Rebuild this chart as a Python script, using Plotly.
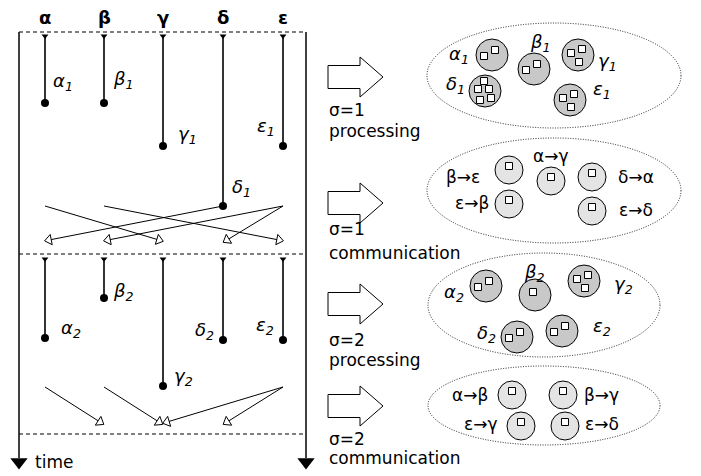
import math
import plotly.graph_objects as go

# ---------------- data ----------------
procs = ["α", "β", "γ", "δ", "ε"]
# time (downward) at which each superstep's processing begins / ends per process
step_start = [35, 258]
step1_end = [103, 103, 146, 206, 146]
step2_end = [338, 298, 386, 340, 340]
# work units (squares) per process in each superstep
step1_work = [2, 2, 3, 5, 3]
step2_work = [2, 1, 3, 2, 2]
# messages (source, target)
comm1_msgs = [("α", "γ"), ("β", "ε"), ("δ", "α"), ("ε", "β"), ("ε", "δ")]
comm2_msgs = [("α", "β"), ("β", "γ"), ("ε", "γ"), ("ε", "δ")]
comm_send_time = [206, 387]
comm_recv_time = [240, 422]
barrier_times = [32, 254, 434]
phase_names = ["processing", "communication", "processing", "communication"]
phase_sigma = ["σ=1", "σ=1", "σ=2", "σ=2"]

# ---------------- layout / style ----------------
W, H = 701, 476
FONT = "DejaVu Sans"
col_x = {p: x for p, x in zip(procs, [45, 104, 163, 223, 283])}
frame_left, frame_right = 19, 306
bar_label_pos = [
    {"α": (63, 82), "β": (123, 80), "γ": (187, 135), "δ": (241, 188), "ε": (266, 127)},
    {"α": (71, 329), "β": (123, 292), "γ": (183, 377), "δ": (204, 331), "ε": (265, 326)},
]
block_arrow_y = [77, 203, 304, 406]
phase_text_y = [(110, 131), (229, 253), (340, 360), (439, 458)]
ellipses = [(427, 23, 681, 128), (427, 138, 681, 243), (428, 253, 660, 357), (428, 366, 660, 445)]
# processing circles: centre, label position
proc_circ = [
    {"α": ((492, 55), (459, 55)), "β": ((534, 69), (540, 43)), "γ": ((578, 55), (607, 62)),
     "δ": ((485, 91), (455, 85)), "ε": ((570, 100), (602, 90))},
    {"α": ((486, 286), (454, 293)), "β": ((535, 295), (534, 273)), "γ": ((584, 281), (623, 285)),
     "δ": ((517, 337), (486, 334)), "ε": ((562, 331), (602, 327))},
]
square_offsets = {
    1: [(-2, -3)],
    2: [(-8, 1), (3, -5)],
    3: [(-7, -2), (4, -6), (1, 7)],
    5: [(-1, -10), (-7, -2), (4, -2), (-5, 9), (6, 7)],
}
comm_circ = [
    {("β", "ε"): ((509, 170), (463, 177)), ("α", "γ"): ((551, 181), (551, 156)),
     ("δ", "α"): ((592, 177), (636, 177)), ("ε", "β"): ((509, 204), (472, 203)),
     ("ε", "δ"): ((592, 211), (636, 210))},
    {("α", "β"): ((512, 395), (470, 395)), ("β", "γ"): ((563, 395), (601, 395)),
     ("ε", "γ"): ((521, 426), (481, 424)), ("ε", "δ"): ((565, 426), (602, 424))},
]

shapes = []
annotations = []
traces = []


def line(x0, y0, x1, y1, w=1.0, dash=None, color="black"):
    d = dict(type="line", x0=x0, y0=y0, x1=x1, y1=y1, xref="x", yref="y", layer="below",
             line=dict(color=color, width=w))
    if dash:
        d["line"]["dash"] = dash
    shapes.append(d)


def text(x, y, s, size=16, anchor="center", bold=False):
    if bold:
        s = "<b>" + s + "</b>"
    annotations.append(dict(x=x, y=y, xref="x", yref="y", text=s, showarrow=False,
                            xanchor=anchor, yanchor="middle",
                            font=dict(family=FONT, size=size, color="black")))


def label(p, s):
    return f"<i>{p}</i><sub><i>{s}</i></sub>"


# headers
for p in procs:
    text(col_x[p], 17, p, size=18, bold=True)

# frame
for fx in (frame_left, frame_right):
    line(fx, barrier_times[0], fx, 458, w=1.5)
traces.append(go.Scatter(x=[frame_left, frame_right], y=[462, 462], mode="markers",
                         marker=dict(symbol="triangle-down", size=15, color="black"),
                         hoverinfo="skip"))
for t in barrier_times:
    line(frame_left, t, frame_right, t, w=1.2, dash="4px,3px")
text(33, 462, "time", size=17, anchor="left")

# processing bars
ends_all = [step1_end, step2_end]
dot_x, dot_y, top_x, top_y = [], [], [], []
for s, ends in enumerate(ends_all):
    for p, e in zip(procs, ends):
        x = col_x[p]
        line(x, step_start[s], x, e, w=1.6)
        dot_x.append(x)
        dot_y.append(e)
        top_x.append(x)
        top_y.append(step_start[s] + 1)
        lx, ly = bar_label_pos[s][p]
        text(lx, ly, label(p, s + 1), size=18)
traces.append(go.Scatter(x=dot_x, y=dot_y, mode="markers",
                         marker=dict(symbol="circle", size=8, color="black"), hoverinfo="skip"))
traces.append(go.Scatter(x=top_x, y=top_y, mode="markers",
                         marker=dict(symbol="triangle-down", size=6, color="black"), hoverinfo="skip"))

# communication arrows
for s, msgs in enumerate([comm1_msgs, comm2_msgs]):
    hx, hy, ang = [], [], []
    for src, dst in msgs:
        x0, y0 = col_x[src], comm_send_time[s]
        sign = 1 if col_x[src] > col_x[dst] else -1
        x1, y1 = col_x[dst] + 4 * sign, comm_recv_time[s]
        line(x0, y0, x1, y1, w=1.0)
        hx.append(x1)
        hy.append(y1)
        ang.append(math.degrees(math.atan2(x1 - x0, -(y1 - y0))))
    traces.append(go.Scatter(x=hx, y=hy, mode="markers",
                             marker=dict(symbol="triangle-up", size=9, angle=ang, color="white",
                                         line=dict(color="black", width=1)),
                             hoverinfo="skip"))

# block arrows + phase labels
for yc, (y1, y2), sig, nm in zip(block_arrow_y, phase_text_y, phase_sigma, phase_names):
    path = (f"M 328,{yc - 11.5} L 360,{yc - 11.5} L 360,{yc - 20} L 383,{yc} "
            f"L 360,{yc + 20} L 360,{yc + 11.5} L 328,{yc + 11.5} Z")
    shapes.append(dict(type="path", path=path, xref="x", yref="y", fillcolor="white", layer="below",
                       line=dict(color="black", width=1)))
    text(327, y1, sig, size=17, anchor="left")
    text(327, y2, nm, size=17, anchor="left")

# ellipses
for x0, y0, x1, y1 in ellipses:
    shapes.append(dict(type="circle", x0=x0, y0=y0, x1=x1, y1=y1, xref="x", yref="y", layer="below",
                       line=dict(color="#222222", width=1, dash="1px,1.5px")))

sq_x, sq_y = [], []
# processing circles
for s, works in enumerate([step1_work, step2_work]):
    for p, wk in zip(procs, works):
        (cx, cy), (lx, ly) = proc_circ[s][p]
        r = 16
        shapes.append(dict(type="circle", x0=cx - r, y0=cy - r, x1=cx + r, y1=cy + r,
                           xref="x", yref="y", fillcolor="#c8c8c8", layer="below",
                           line=dict(color="black", width=1)))
        for dx, dy in square_offsets[wk]:
            sq_x.append(cx + dx)
            sq_y.append(cy + dy)
        text(lx, ly, label(p, s + 1), size=18)

# communication circles
for s, msgs in enumerate([comm1_msgs, comm2_msgs]):
    for m in msgs:
        (cx, cy), (lx, ly) = comm_circ[s][m]
        r = 14
        shapes.append(dict(type="circle", x0=cx - r, y0=cy - r, x1=cx + r, y1=cy + r,
                           xref="x", yref="y", fillcolor="#e4e4e4", layer="below",
                           line=dict(color="black", width=1)))
        sq_x.append(cx)
        sq_y.append(cy - 4)
        text(lx, ly, f"{m[0]}→{m[1]}", size=17)

traces.append(go.Scatter(x=sq_x, y=sq_y, mode="markers",
                         marker=dict(symbol="square", size=7, color="white",
                                     line=dict(color="black", width=1)),
                         hoverinfo="skip"))

fig = go.Figure(traces)
fig.update_layout(
    width=W, height=H, autosize=False,
    margin=dict(l=0, r=0, t=0, b=0, pad=0),
    paper_bgcolor="white", plot_bgcolor="white",
    showlegend=False,
    shapes=shapes, annotations=annotations,
    xaxis=dict(range=[0, W], visible=False, fixedrange=True),
    yaxis=dict(range=[H, 0], visible=False, fixedrange=True),
)
fig.write_html("out.html", config={"displayModeBar": False},
               post_script="document.body.style.margin='0';")
